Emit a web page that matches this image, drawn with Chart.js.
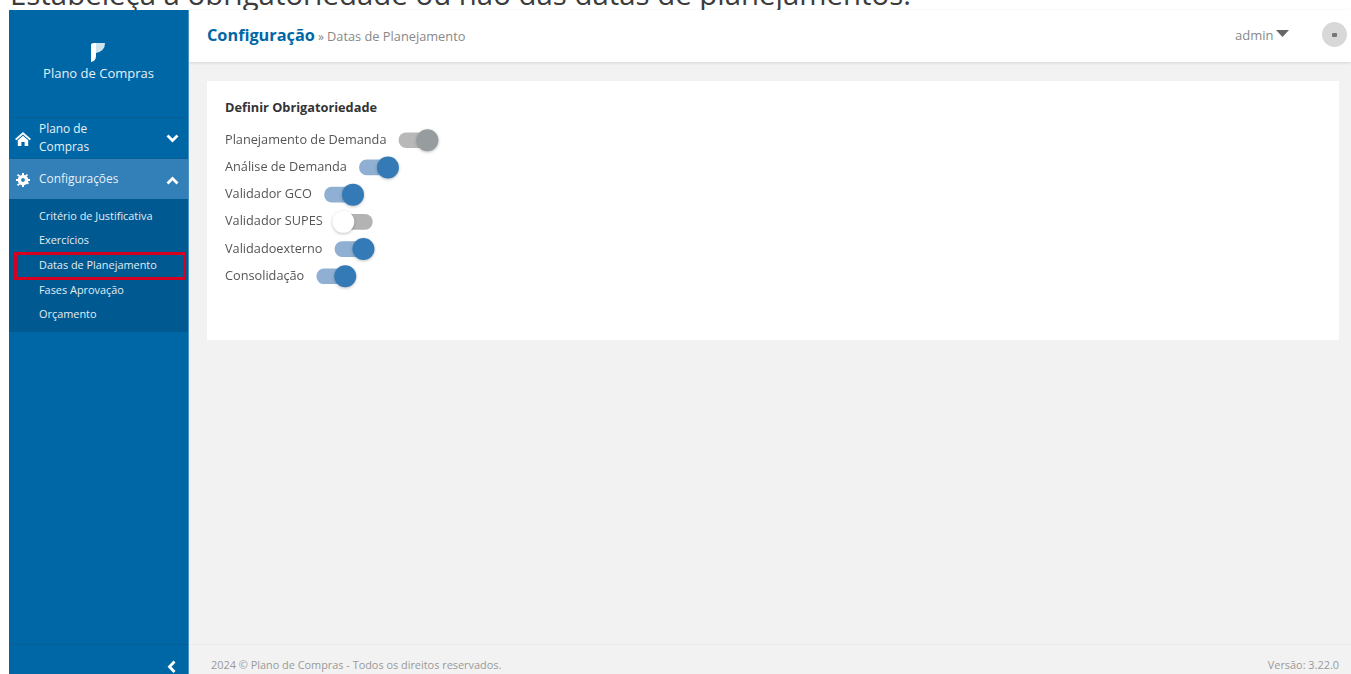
<!DOCTYPE html>
<html lang="pt-BR">
<head>
<meta charset="utf-8">
<title>Datas de Planejamento</title>
<script src="https://cdn.jsdelivr.net/npm/chart.js@4"></script>
<style>
html, body { margin: 0; padding: 0; background: #fff; overflow: hidden; }
body { width: 1351px; height: 674px; position: relative; font-family: "Open Sans", sans-serif; color: #444; }
.abs { position: absolute; white-space: nowrap; }
#intro { left: 10px; top: -23px; font-size: 29.4px; line-height: 34px; color: #3c3c3c; }
#sidebar { position: absolute; left: 9px; top: 10px; width: 179px; height: 664px; background: #0067a6; border-right: 1px solid #4a94c6; }
#main { position: absolute; left: 189px; top: 10px; width: 1162px; height: 664px; background: #f2f2f2; }
#topbar { position: absolute; left: 189px; top: 10px; width: 1162px; height: 52px; background: #fff; box-shadow: 0 1px 3px rgba(0,0,0,.12); }
#card { position: absolute; left: 207px; top: 81px; width: 1132px; height: 259px; background: #fff; }
#chartbox { position: absolute; left: 207px; top: 118.8px; width: 300px; height: 178.5px; }
.side { color: #e6f0f7; }
.sub { left: 39px; font-size: 10.9px; color: #e3edf4; line-height: 16px; }
</style>
</head>
<body>
<div id="intro" class="abs">Estabeleça a obrigatoriedade ou não das datas de planejamentos.</div>
<div id="main"></div>
<div id="topbar"></div>
<div id="sidebar"></div>
<div class="abs" style="left:9px;top:117px;width:179px;height:1px;background:#0b5d93"></div>
<div class="abs" style="left:9px;top:158px;width:179px;height:1px;background:#0b5d93"></div>
<div class="abs" style="left:9px;top:159px;width:179px;height:40px;background:#337fb8"></div>
<div class="abs" style="left:9px;top:199px;width:179px;height:133px;background:#005a91"></div>
<div class="abs" style="left:9px;top:644px;width:179px;height:1px;background:#0b5d93"></div>

<svg class="abs" style="left:90px;top:42px" width="16" height="20" viewBox="0 0 16 20">
  <path d="M1 3 Q1 1 4 1 L6 1 L6 14 Q6 19 1 20 Z" fill="#fff"/>
  <path d="M6 1 L15 1 Q15 9 6 11 Z" fill="#cfe3f1"/>
</svg>
<div class="abs side" style="left:9px;width:179px;top:64px;text-align:center;font-size:13px;line-height:18px">Plano de Compras</div>

<svg class="abs" style="left:15px;top:132px" width="16" height="14" viewBox="0 0 16 14"><path d="M8 0 L16 7 L14.6 8.2 L8 2.6 L1.4 8.2 L0 7 Z M2.8 8.2 L8 3.8 L13.2 8.2 L13.2 14 L9.6 14 L9.6 10 L6.4 10 L6.4 14 L2.8 14 Z" fill="#fff"/></svg>
<div class="abs side" style="left:39px;top:119px;font-size:11.9px;line-height:18px">Plano de<br>Compras</div>
<svg class="abs" style="left:166px;top:134px" width="13" height="9" viewBox="0 0 13 9"><path d="M1.5 1.5 L6.5 6.5 L11.5 1.5" fill="none" stroke="#fff" stroke-width="2.8"/></svg>

<svg class="abs" style="left:16px;top:173px" width="14" height="14" viewBox="0 0 14 14"><circle cx="7" cy="7" r="3.6" fill="none" stroke="#fff" stroke-width="3.4"/><path d="M6 0h2v2H6zM6 12h2v2H6zM0 6h2v2H0zM12 6h2v2h-2zM2 1l2 1.2-1 1.6L1 2.6zM12 11.4l-2-1.2 1-1.6 2 1.2zM12 2.6l-2 1.2-1-1.6 2-1.2zM2 13l2-1.2-1-1.6-2 1.2z" fill="#fff"/></svg>
<div class="abs side" style="left:39px;top:169px;font-size:11.9px;line-height:18px">Configurações</div>
<svg class="abs" style="left:166px;top:176px" width="13" height="9" viewBox="0 0 13 9"><path d="M1.5 7.5 L6.5 2.5 L11.5 7.5" fill="none" stroke="#fff" stroke-width="2.8"/></svg>

<div class="abs sub" style="top:208px">Critério de Justificativa</div>
<div class="abs sub" style="top:232px">Exercícios</div>
<div class="abs sub" style="top:257px">Datas de Planejamento</div>
<div class="abs sub" style="top:282px">Fases Aprovação</div>
<div class="abs sub" style="top:306px">Orçamento</div>
<div class="abs" style="left:14px;top:252px;width:166px;height:22px;border:3px solid #d5001f"></div>

<svg class="abs" style="left:167px;top:660px" width="10" height="14" viewBox="0 0 10 14"><path d="M7.5 1.5 L2.5 6.8 L7.5 12" fill="none" stroke="#fff" stroke-width="2.8"/></svg>

<div class="abs" style="left:207px;top:23px;line-height:24px;color:#888;font-size:12px"><span style="font-size:16.3px;font-weight:700;color:#0067a6">Configuração</span> » <span style="font-size:12.8px">Datas de Planejamento</span></div>
<div class="abs" style="left:1235px;top:26px;font-size:13px;line-height:18px;color:#888">admin</div>
<svg class="abs" style="left:1276px;top:30px" width="13" height="8" viewBox="0 0 13 8"><path d="M0 0 H13 L6.5 7 Z" fill="#666"/></svg>
<div class="abs" style="left:1322px;top:22px;width:25px;height:25px;border-radius:50%;background:#d8d8d8"></div>
<div class="abs" style="left:1332px;top:33px;width:5px;height:4px;border-radius:1px;background:#777"></div>

<div id="card"></div>
<div class="abs" style="left:225px;top:98px;font-size:12.75px;line-height:18px;font-weight:700;color:#333">Definir Obrigatoriedade</div>
<div id="chartbox"><canvas id="toggle_chart"></canvas></div>

<div class="abs" style="left:189px;top:644px;width:1162px;height:1px;background:#ebebeb"></div>
<div class="abs" style="left:211px;top:657px;font-size:10.9px;line-height:16px;color:#999">2024 © Plano de Compras - Todos os direitos reservados.</div>
<div class="abs" style="right:12px;top:657px;font-size:10.9px;line-height:16px;color:#999">Versão: 3.22.0</div>

<script>
const toggleLabels = ['Planejamento de Demanda', 'Análise de Demanda', 'Validador GCO', 'Validador SUPES', 'Validadoexterno', 'Consolidação'];
const toggleOn = [1, 1, 1, 0, 1, 1];
const toggleEnabled = [0, 1, 1, 1, 1, 1];

const LABEL_SIZE = 12.73;
const LABEL_GAP = 12.5, TRACK_WIDTH = 37;

// the switch sits right after its label, so it follows the measured text width
var measure = document.createElement('canvas').getContext('2d');
measure.font = LABEL_SIZE + 'px "Open Sans"';
var trackStart = toggleLabels.map(function(label) {
    return measure.measureText(label).width + LABEL_GAP;
});

function trackColor(i) {
    if (!toggleEnabled[i]) return '#b8b8b8';
    return toggleOn[i] ? '#8fb0d2' : '#b3b3b3';
}
function knobColor(i) {
    if (!toggleEnabled[i]) return '#979c9e';
    return toggleOn[i] ? '#337ab7' : '#ffffff';
}

const knobShadow = {
    id: 'knobShadow',
    beforeDatasetDraw(chart, args) {
        if (args.index !== 1) return;
        chart.ctx.save();
        chart.ctx.shadowColor = 'rgba(0,0,0,0.25)';
        chart.ctx.shadowBlur = 3;
        chart.ctx.shadowOffsetY = 1;
    },
    afterDatasetDraw(chart, args) {
        if (args.index === 1) chart.ctx.restore();
    }
};

new Chart(document.getElementById('toggle_chart').getContext('2d'), {
    data: {
        labels: toggleLabels,
        datasets: [{
            type: 'bar',
            data: trackStart.map(function(start) { return [start, start + TRACK_WIDTH]; }),
            backgroundColor: toggleLabels.map(function(_, i) { return trackColor(i); }),
            borderRadius: 8,
            borderSkipped: false,
            barThickness: 15,
            order: 2
        }, {
            type: 'scatter',
            data: toggleLabels.map(function(label, i) {
                return {x: trackStart[i] + (toggleOn[i] ? 28.5 : 8), y: label};
            }),
            backgroundColor: toggleLabels.map(function(_, i) { return knobColor(i); }),
            borderWidth: 0,
            pointRadius: 11,
            order: 1
        }]
    },
    options: {
        indexAxis: 'y',
        responsive: true,
        maintainAspectRatio: false,
        animation: false,
        events: [],
        layout: {autoPadding: false, padding: {left: 18}},
        plugins: {
            legend: {display: false},
            title: {display: false},
            tooltip: {enabled: false}
        },
        scales: {
            x: {
                display: false,
                min: 0,
                max: 282
            },
            y: {
                type: 'category',
                grid: {display: false, drawTicks: false},
                border: {display: false},
                ticks: {
                    mirror: true,
                    padding: 0,
                    color: '#555',
                    autoSkip: false,
                    font: {family: '"Open Sans"', size: LABEL_SIZE}
                }
            }
        }
    },
    plugins: [knobShadow]
});
</script>
</body>
</html>
